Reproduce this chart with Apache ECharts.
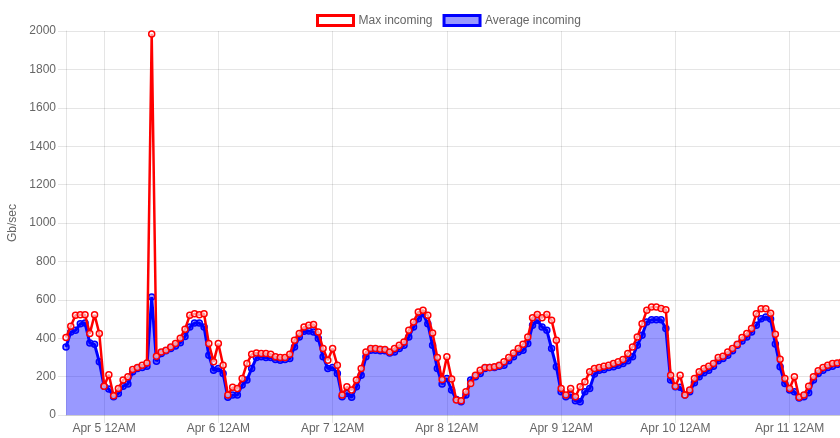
<!DOCTYPE html>
<html lang="en">
<head>
    <meta charset="UTF-8">
    <title>Incoming traffic</title>
    <style>
        body { margin: 0; font-family: "Liberation Sans", Arial, sans-serif; }
        #chart { width: 840px; height: 438px; }
    </style>
</head>
<body>
    <div id="chart"></div>
    <script src="https://cdn.jsdelivr.net/npm/echarts@6/dist/echarts.min.js"></script>
    <script>
        // hourly samples, first one is Apr 4 4PM
        const startDay = 4;
        const startHour = 16;
        const tickLabels = ['Apr 5 12AM', 'Apr 6 12AM', 'Apr 7 12AM', 'Apr 8 12AM', 'Apr 9 12AM', 'Apr 10 12AM', 'Apr 11 12AM'];

        const maxIncoming = [
            403, 462, 519, 522, 522, 424, 522, 424, 150, 210, 100, 138, 182, 199, 237, 247, 259, 271, 1985, 306,
            328, 337, 354, 372, 400, 447, 519, 527, 522, 527, 372, 277, 372, 259, 104, 144, 138, 190, 268, 316,
            323, 320, 320, 316, 303, 299, 299, 316, 389, 424, 458, 467, 472, 432, 346, 285, 346, 259, 104, 147,
            130, 182, 242, 328, 346, 346, 342, 341, 328, 346, 363, 380, 441, 484, 536, 545, 519, 427, 299, 185,
            303, 188, 78, 74, 121, 164, 207, 233, 247, 247, 251, 259, 277, 299, 323, 346, 368, 406, 507, 524,
            507, 524, 493, 389, 138, 104, 138, 95, 147, 173, 225, 242, 247, 254, 259, 268, 277, 289, 320, 354,
            406, 475, 545, 562, 562, 555, 548, 207, 150, 207, 104, 130, 190, 225, 242, 254, 268, 299, 306, 328,
            346, 368, 403, 424, 450, 527, 553, 553, 530, 420, 290, 190, 138, 199, 92, 104, 150, 199, 230, 247,
            259, 268, 271, 277
        ];

        const avgIncoming = [
            354, 432, 441, 475, 479, 375, 368, 277, 150, 135, 95, 112, 150, 161, 225, 242, 247, 254, 614, 280,
            320, 334, 346, 360, 376, 409, 458, 479, 479, 458, 311, 233, 242, 216, 92, 104, 104, 156, 182, 242,
            299, 303, 299, 299, 289, 285, 289, 294, 354, 406, 436, 437, 432, 398, 303, 242, 247, 216, 95, 112,
            92, 147, 207, 303, 337, 337, 334, 334, 323, 328, 346, 363, 406, 458, 501, 527, 475, 363, 242, 161,
            190, 130, 81, 69, 104, 182, 199, 216, 242, 247, 247, 254, 259, 282, 303, 328, 337, 372, 467, 493,
            458, 441, 346, 251, 121, 95, 104, 74, 69, 121, 138, 213, 233, 237, 247, 251, 259, 268, 282, 303,
            363, 415, 484, 496, 496, 496, 450, 182, 147, 144, 104, 121, 168, 199, 220, 233, 254, 282, 294, 311,
            334, 363, 386, 406, 432, 467, 501, 510, 500, 370, 251, 164, 130, 121, 88, 95, 116, 182, 216, 233,
            247, 254, 264, 271
        ];

        function hourLabel(i) {
            const h = startHour + i;
            const day = startDay + Math.floor(h / 24);
            const hh = h % 24;
            const h12 = hh % 12 === 0 ? 12 : hh % 12;
            return 'Apr ' + day + ' ' + h12 + (hh < 12 ? 'AM' : 'PM');
        }
        const categories = maxIncoming.map((_, i) => hourLabel(i));

        const isTick = (index) => tickLabels.includes(categories[index]);
        const gridColor = 'rgba(0,0,0,0.1)';

        const chart = echarts.init(document.getElementById('chart'));
        chart.setOption({
            animation: false,
            textStyle: { fontFamily: '"Liberation Sans", Arial, sans-serif' },
            legend: {
                top: 9,
                left: 311,
                itemWidth: 36,
                itemHeight: 10,
                itemGap: 10,
                textStyle: { color: '#666', fontSize: 12 },
                data: [
                    { name: 'Max incoming', icon: 'rect', itemStyle: { color: '#fff', borderColor: 'red', borderWidth: 3 } },
                    { name: 'Average incoming', icon: 'rect', itemStyle: { color: 'rgba(0,0,255,0.4)', borderColor: 'blue', borderWidth: 3 } }
                ]
            },
            grid: { left: 66, right: -2, top: 31, bottom: 23, containLabel: false, outerBoundsMode: 'none' },
            xAxis: {
                type: 'category',
                data: categories,
                boundaryGap: false,
                axisLine: { lineStyle: { color: gridColor } },
                axisTick: { show: true, interval: isTick, length: 8, lineStyle: { color: gridColor } },
                axisLabel: { interval: isTick, color: '#666', fontSize: 12, margin: 8 },
                splitLine: { show: true, interval: isTick, lineStyle: { color: gridColor } }
            },
            yAxis: {
                type: 'value',
                min: 0,
                max: 2000,
                interval: 200,
                name: 'Gb/sec',
                nameLocation: 'middle',
                nameRotate: 90,
                nameGap: 47,
                nameTextStyle: { color: '#666', fontSize: 12 },
                axisLine: { show: true, lineStyle: { color: gridColor } },
                axisTick: { show: true, length: 8, lineStyle: { color: gridColor } },
                axisLabel: { color: '#666', fontSize: 12, margin: 10, formatter: v => String(v) },
                splitLine: { lineStyle: { color: gridColor } }
            },
            series: [
                {
                    name: 'Average incoming',
                    type: 'line',
                    data: avgIncoming,
                    z: 2,
                    showAllSymbol: true,
                    symbol: 'circle',
                    symbolSize: 6,
                    lineStyle: { color: 'blue', width: 3 },
                    itemStyle: { color: 'rgba(0,0,255,0.4)', borderColor: 'blue', borderWidth: 1.5 },
                    areaStyle: { color: 'rgba(0,0,255,0.4)', opacity: 1, origin: 'start' }
                },
                {
                    name: 'Max incoming',
                    type: 'line',
                    data: maxIncoming,
                    z: 3,
                    showAllSymbol: true,
                    symbol: 'circle',
                    symbolSize: 6,
                    lineStyle: { color: 'red', width: 2.5 },
                    itemStyle: { color: 'rgba(255,255,255,0.6)', borderColor: 'red', borderWidth: 1.5 }
                }
            ]
        });
    </script>
</body>
</html>
